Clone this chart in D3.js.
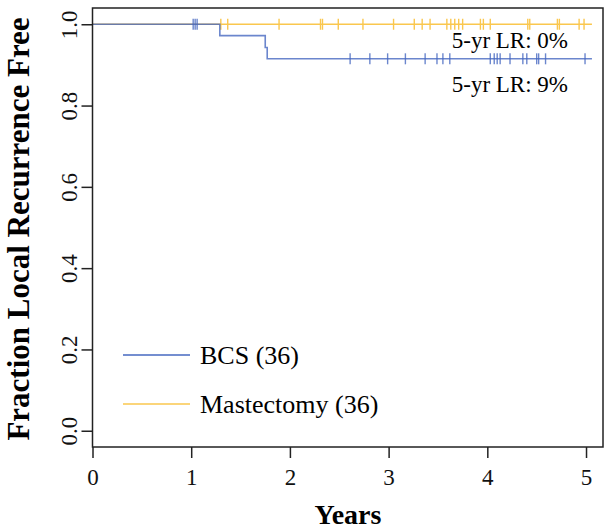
<!DOCTYPE html>
<html>
<head>
  <script src="https://d3js.org/d3.v7.min.js"></script>
  <style>
    body { margin: 0; background: #fff; }
    text { font-family: "Liberation Serif", "Times New Roman", serif; }
  </style>
</head>
<body>
  <svg id="chart"></svg>
  <script>
    // group labels and colours
    var groups = ["BCS (36)", "Mastectomy (36)"];
    var colors = ["#4668c0", "#fac74e"];

    // BCS Kaplan-Meier steps (time in years, survival after step)
    var bcsEventTimes = [0, 1.29, 1.75, 1.77];
    var bcsSurvival = [1.0, 0.972, 0.943, 0.915];
    var bcsCensor = [1.02, 1.04, 1.06, 2.61, 2.81, 2.99, 3.17, 3.37, 3.49, 3.55, 3.62,
                     4.03, 4.07, 4.10, 4.13, 4.23, 4.36, 4.40, 4.50, 4.52, 4.59, 4.99];

    // Mastectomy: no events
    var mastEventTimes = [0];
    var mastSurvival = [1.0];
    var mastCensor = [1.30, 1.37, 1.89, 2.31, 2.33, 2.49, 2.74, 3.05, 3.26, 3.34, 3.42,
                      3.59, 3.63, 3.67, 3.71, 3.75, 3.93, 3.96, 4.03, 4.41, 4.43, 4.71,
                      4.73, 4.93, 4.98];
    var endTime = 5.06;

    var xTicks = [0, 1, 2, 3, 4, 5];
    var yTicks = [0, 0.2, 0.4, 0.6, 0.8, 1.0];
    var notes = ["5-yr LR: 0%", "5-yr LR: 9%"];

    var width = 605, height = 531;
    var plotLeft = 92.5, plotRight = 603, plotTop = 8, plotBottom = 447;

    var svg = d3.select("#chart").attr("width", width).attr("height", height);

    var x = d3.scaleLinear().domain([0, 5.172]).range([plotLeft, plotRight]);
    var y = d3.scaleLinear().domain([-0.04, 1.04]).range([plotBottom, plotTop]);

    // steps -> points
    function steps(times, surv) {
      var pts = times.map((t, i) => [t, surv[i]]);
      pts.push([endTime, surv[surv.length - 1]]);
      return pts;
    }
    function survAt(times, surv, t) {
      var s = surv[0];
      times.forEach((tt, i) => { if (tt <= t) s = surv[i]; });
      return s;
    }

    var line = d3.line()
      .x(d => x(d[0]))
      .y(d => y(d[1]))
      .curve(d3.curveStepAfter);

    var series = [
      { times: mastEventTimes, surv: mastSurvival, censor: mastCensor, color: colors[1], op: 1 },
      { times: bcsEventTimes, surv: bcsSurvival, censor: bcsCensor, color: colors[0], op: 0.8 }
    ];

    series.forEach(function(s) {
      svg.append("path")
        .attr("d", line(steps(s.times, s.surv)))
        .attr("fill", "none")
        .attr("stroke", s.color)
        .attr("stroke-opacity", s.op)
        .attr("stroke-width", 1.6);

      svg.selectAll(null)
        .data(s.censor)
        .enter()
        .append("line")
        .attr("x1", d => x(d))
        .attr("x2", d => x(d))
        .attr("y1", d => y(survAt(s.times, s.surv, d)) - 5.5)
        .attr("y2", d => y(survAt(s.times, s.surv, d)) + 5.5)
        .attr("stroke", s.color)
        .attr("stroke-opacity", s.op)
        .attr("stroke-width", 1.4);
    });

    // box
    svg.append("rect")
      .attr("x", plotLeft).attr("y", plotTop)
      .attr("width", plotRight - plotLeft).attr("height", plotBottom - plotTop)
      .attr("fill", "none")
      .attr("stroke", "#222")
      .attr("stroke-width", 1.5);

    // axes
    var xAxis = svg.append("g")
      .attr("transform", "translate(0," + plotBottom + ")")
      .call(d3.axisBottom(x).tickValues(xTicks).tickSize(11).tickPadding(11).tickFormat(d3.format("d")));
    xAxis.select(".domain").remove();
    xAxis.selectAll("line").attr("stroke", "#222").attr("stroke-width", 1.5);
    xAxis.selectAll("text").style("font-size", "23px").attr("fill", "#111");

    var yAxis = svg.append("g")
      .attr("transform", "translate(" + plotLeft + ",0)")
      .call(d3.axisLeft(y).tickValues(yTicks).tickSize(11).tickFormat(d3.format(".1f")));
    yAxis.select(".domain").remove();
    yAxis.selectAll("line").attr("stroke", "#222").attr("stroke-width", 1.5);
    yAxis.selectAll("text")
      .style("font-size", "23px")
      .attr("fill", "#111")
      .attr("text-anchor", "middle")
      .attr("dy", null)
      .attr("x", 0)
      .attr("transform", "translate(-16,0) rotate(-90)");

    // axis titles
    svg.append("text")
      .attr("x", 348)
      .attr("y", 524)
      .attr("text-anchor", "middle")
      .style("font-size", "28px")
      .style("font-weight", "bold")
      .text("Years");

    svg.append("text")
      .attr("transform", "translate(29,229) rotate(-90)")
      .attr("text-anchor", "middle")
      .style("font-size", "31px")
      .style("font-weight", "bold")
      .text("Fraction Local Recurrence Free");

    // notes
    svg.append("text")
      .attr("x", 568).attr("y", 48)
      .attr("text-anchor", "end")
      .style("font-size", "23px")
      .text(notes[0]);
    svg.append("text")
      .attr("x", 568).attr("y", 92)
      .attr("text-anchor", "end")
      .style("font-size", "23px")
      .text(notes[1]);

    // legend
    var legend = svg.append("g");
    [0, 1].forEach(function(i) {
      var ly = 355 + i * 49;
      legend.append("line")
        .attr("x1", 123).attr("x2", 190)
        .attr("y1", ly).attr("y2", ly)
        .attr("stroke", colors[i])
        .attr("stroke-width", 1.6);
      legend.append("text")
        .attr("x", 200).attr("y", ly + 9)
        .style("font-size", "26px")
        .text(groups[i]);
    });
  </script>
</body>
</html>
